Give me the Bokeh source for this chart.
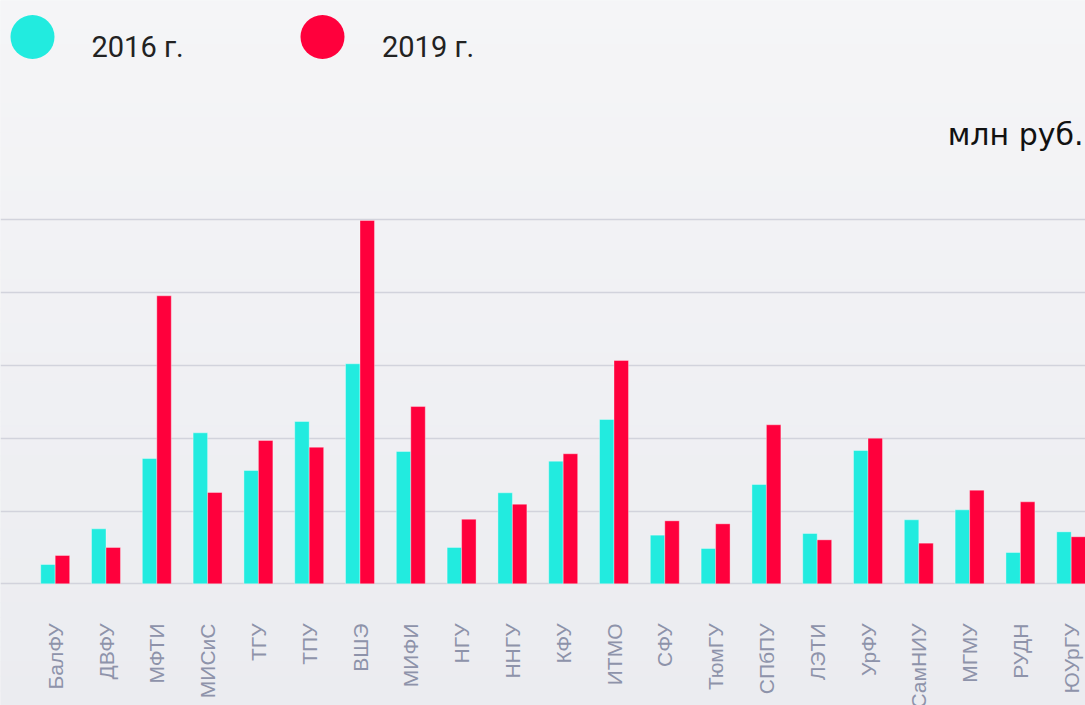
import numpy as np
from bokeh.plotting import figure
from bokeh.models import Range1d, FixedTicker, ColumnDataSource, Grid
from bokeh.transform import dodge
from bokeh.core.properties import value
from bokeh.embed import file_html
from bokeh.resources import INLINE

# ---------------- data ----------------
categories = ["БалФУ", "ДВФУ", "МФТИ", "МИСиС", "ТГУ", "ТПУ", "ВШЭ", "МИФИ", "НГУ",
              "ННГУ", "КФУ", "ИТМО", "СФУ", "ТюмГУ", "СПбПУ", "ЛЭТИ", "УрФУ",
              "СамНИУ", "МГМУ", "РУДН", "ЮУрГУ"]
values_2016 = [265, 755, 1721, 2074, 1556, 2229, 3022, 1817, 499, 1250, 1684,
               2257, 668, 485, 1364, 691, 1831, 879, 1016, 430, 714]
values_2019 = [389, 499, 3956, 1254, 1968, 1876, 4990, 2435, 887, 1093, 1786,
               3067, 865, 824, 2184, 604, 2000, 558, 1286, 1126, 646]
series_names = ["2016 г.", "2019 г."]
unit_label = "млн руб."
grid_ticks = [0, 1000, 2000, 3000, 4000, 5000]

# ---------------- layout / style ----------------
W, H = 1085, 705
BASE_Y = 583.3             # canvas px of the zero line
PX_PER_UNIT = 72.8 / 1000  # px per value unit
X0 = 54.7                  # canvas px of first category centre
PITCH = 50.8               # px between categories
CYAN = "#22ebdf"
RED = "#ff003c"

p = figure(width=W, height=H, output_backend="svg", toolbar_location=None,
           x_range=Range1d(-X0 / PITCH, (W - X0) / PITCH),
           y_range=Range1d(-(H - BASE_Y) / PX_PER_UNIT, BASE_Y / PX_PER_UNIT),
           x_axis_location=None, y_axis_location=None, min_border=0)
p.extra_x_ranges = {"px": Range1d(0, W)}
p.extra_y_ranges = {"px": Range1d(H, 0)}
p.outline_line_color = None
p.grid.visible = False
p.background_fill_color = "#f0f1f4"
p.border_fill_color = "#f0f1f4"

# background gradient bands (decorative)
nb = 48
edges = np.linspace(0, H, nb + 1)
top_c = np.array([245, 245, 247])
bot_c = np.array([235, 236, 240])
cols = []
for i in range(nb):
    t = (i + 0.5) / nb
    c = (top_c * (1 - t) + bot_c * t).round().astype(int)
    cols.append("#%02x%02x%02x" % tuple(c))
p.quad(left=0, right=W, top=edges[:-1], bottom=edges[1:], fill_color=cols,
       line_color=cols, x_range_name="px", y_range_name="px", level="image")

grid = Grid(dimension=1, ticker=FixedTicker(ticks=grid_ticks),
            grid_line_color="#d2d3dc", grid_line_width=1.5, level="underlay")
p.add_layout(grid, "center")

src = ColumnDataSource(dict(x=list(range(len(categories))), cat=categories,
                            v16=values_2016, v19=values_2019))
BW = 0.285
p.vbar(x=dodge("x", -BW / 2), top="v16", bottom=0, width=BW, source=src,
       fill_color=CYAN, line_color="white", line_alpha=0.35, line_width=1)
p.vbar(x=dodge("x", BW / 2), top="v19", bottom=0, width=BW, source=src,
       fill_color=RED, line_color="white", line_alpha=0.35, line_width=1)

# category labels
p.text(x="x", y=623, text="cat", source=src, y_range_name="px",
       angle=np.pi / 2, text_align="right", text_baseline="middle",
       text_font=value("Liberation Sans"), text_font_size="21px",
       text_color="#8e93aa")

# legend
p.scatter(x=[32, 322], y=[36.5, 36.5], size=44, marker="circle",
          fill_color=[CYAN, RED], line_color=None,
          x_range_name="px", y_range_name="px")
p.text(x=[91, 381.5], y=[46.7, 46.7], text=series_names,
       x_range_name="px", y_range_name="px",
       text_align="left", text_baseline="alphabetic",
       text_font=value("Roboto"), text_font_size="29px", text_color="#222222")

# unit label
p.text(x=[1083], y=[134], text=[unit_label],
       x_range_name="px", y_range_name="px",
       text_align="right", text_baseline="alphabetic",
       text_font=value("DejaVu Sans"), text_font_size="30px", text_color="#111111")

open("out.html", "w").write(file_html(p, INLINE))
